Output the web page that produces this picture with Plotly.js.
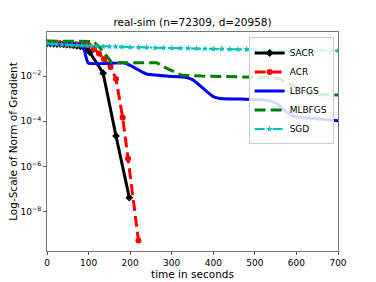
<!DOCTYPE html>
<html>
<head>
<meta charset="utf-8">
<script src="https://cdn.plot.ly/plotly-3.0.1.min.js"></script>
<style>html,body{margin:0;padding:0;background:#fff;}#chart{width:376px;height:282px;}</style>
</head>
<body>
<div id="chart"></div>
<script>
// Values are log10 of the gradient norm
const sacrTime = [0, 8, 16, 24, 32, 40, 48, 56, 64, 72, 80, 88, 96, 103, 135, 166, 198];
const sacrLog10 = [-0.55, -0.56, -0.57, -0.58, -0.59, -0.6, -0.61, -0.62, -0.64, -0.66, -0.68, -0.72, -0.8, -0.95, -1.87, -4.65, -7.38];

const acrTime = [0, 10, 20, 30, 40, 50, 60, 70, 80, 90, 100, 113, 125, 137, 153, 166, 182, 195, 220];
const acrLog10 = [-0.52, -0.53, -0.54, -0.55, -0.56, -0.57, -0.58, -0.59, -0.6, -0.62, -0.65, -0.8, -1.0, -1.25, -1.6, -2.13, -3.83, -5.66, -9.28];

const lbfgsTime = [0, 85, 99, 187, 207, 224, 240, 288, 336, 352, 376, 400, 416, 528, 552, 576, 596, 612, 700];
const lbfgsLog10 = [-0.58, -0.62, -1.42, -1.42, -1.59, -1.77, -1.91, -2.0, -2.06, -2.18, -2.55, -2.91, -2.99, -3.06, -3.21, -3.58, -3.8, -3.83, -3.98];

const mlbfgsTime = [0, 112, 130, 146, 156, 264, 288, 324, 372, 528, 560, 600, 630, 700];
const mlbfgsLog10 = [-0.45, -0.47, -0.8, -1.17, -1.41, -1.41, -1.66, -1.96, -2.0, -2.06, -2.12, -2.5, -2.8, -2.84];

const sgdTime = [0, 12, 24, 36, 48, 60, 72, 84, 96, 108, 120, 135, 150, 165, 180, 200, 220, 240, 260, 280, 300, 320, 340, 360, 380, 400, 420, 440, 460, 480, 500, 520, 540, 560, 580, 600, 620, 640, 660, 680, 700];
const sgdLog10 = [-0.56, -0.58, -0.6, -0.61, -0.62, -0.63, -0.64, -0.65, -0.66, -0.67, -0.68, -0.69, -0.7, -0.7, -0.71, -0.72, -0.73, -0.74, -0.75, -0.75, -0.76, -0.77, -0.77, -0.78, -0.79, -0.8, -0.8, -0.81, -0.82, -0.82, -0.83, -0.84, -0.84, -0.85, -0.85, -0.86, -0.86, -0.87, -0.87, -0.88, -0.88];

const yTickVals = [1e-2, 1e-4, 1e-6, 1e-8];
const yTickText = ['10<sup>−2</sup>', '10<sup>−4</sup>', '10<sup>−6</sup>', '10<sup>−8</sup>'];
const xTickVals = [0, 100, 200, 300, 400, 500, 600, 700];

const toVal = a => a.map(v => Math.pow(10, v));

const traces = [
  {name: 'SACR', x: sacrTime, y: toVal(sacrLog10), mode: 'lines+markers',
   line: {color: '#000000', width: 3}, marker: {symbol: 'diamond', size: 6, color: '#000000'}},
  {name: 'ACR', x: acrTime, y: toVal(acrLog10), mode: 'lines+markers',
   line: {color: '#ff0000', width: 3, dash: '11px,5px'}, marker: {symbol: 'circle', size: 6, color: '#ff0000'}},
  {name: 'LBFGS', x: lbfgsTime, y: toVal(lbfgsLog10), mode: 'lines',
   line: {color: '#0000ff', width: 3, shape: 'spline', smoothing: 0.4}},
  {name: 'MLBFGS', x: mlbfgsTime, y: toVal(mlbfgsLog10), mode: 'lines',
   line: {color: '#008000', width: 3, dash: '11px,5px'}},
  {name: 'SGD', x: sgdTime, y: toVal(sgdLog10), mode: 'lines+markers',
   line: {color: '#00bfbf', width: 2, dash: '10px,3px,2px,3px'}, marker: {symbol: 'star', size: 5, color: '#00bfbf'}}
];

const layout = {
  width: 376, height: 282,
  margin: {l: 47, r: 38, t: 32, b: 31},
  paper_bgcolor: '#ffffff', plot_bgcolor: '#ffffff',
  font: {family: 'DejaVu Sans, sans-serif', size: 9, color: '#000'},
  title: {text: 'real-sim (n=72309, d=20958)', font: {size: 10.5}, x: 0.512, xanchor: 'center', y: 0.92, yanchor: 'middle'},
  xaxis: {
    range: [0, 700], tickvals: xTickVals, ticks: 'outside', ticklen: 3, tickcolor: '#555',
    showgrid: false, zeroline: false, showline: true, linecolor: '#777', linewidth: 1, mirror: true,
    title: {text: 'time in seconds', font: {size: 10.5}, standoff: 2}, tickfont: {size: 9}
  },
  yaxis: {
    type: 'log', range: [-9.74, -0.05], tickvals: yTickVals, ticktext: yTickText,
    ticks: 'outside', ticklen: 3, tickcolor: '#555',
    showgrid: false, zeroline: false, showline: true, linecolor: '#777', linewidth: 1, mirror: true,
    title: {text: 'Log-Scale of Norm of Gradient', font: {size: 10.5}, standoff: 0}, tickfont: {size: 9}
  },
  showlegend: true,
  legend: {x: 0.985, xanchor: 'right', y: 0.975, yanchor: 'top', bgcolor: 'rgba(255,255,255,0.85)',
           bordercolor: '#cccccc', borderwidth: 1, font: {size: 9}, itemwidth: 30, tracegroupgap: 0}
};

Plotly.newPlot('chart', traces, layout, {displayModeBar: false, staticPlot: true});
</script>
</body>
</html>
